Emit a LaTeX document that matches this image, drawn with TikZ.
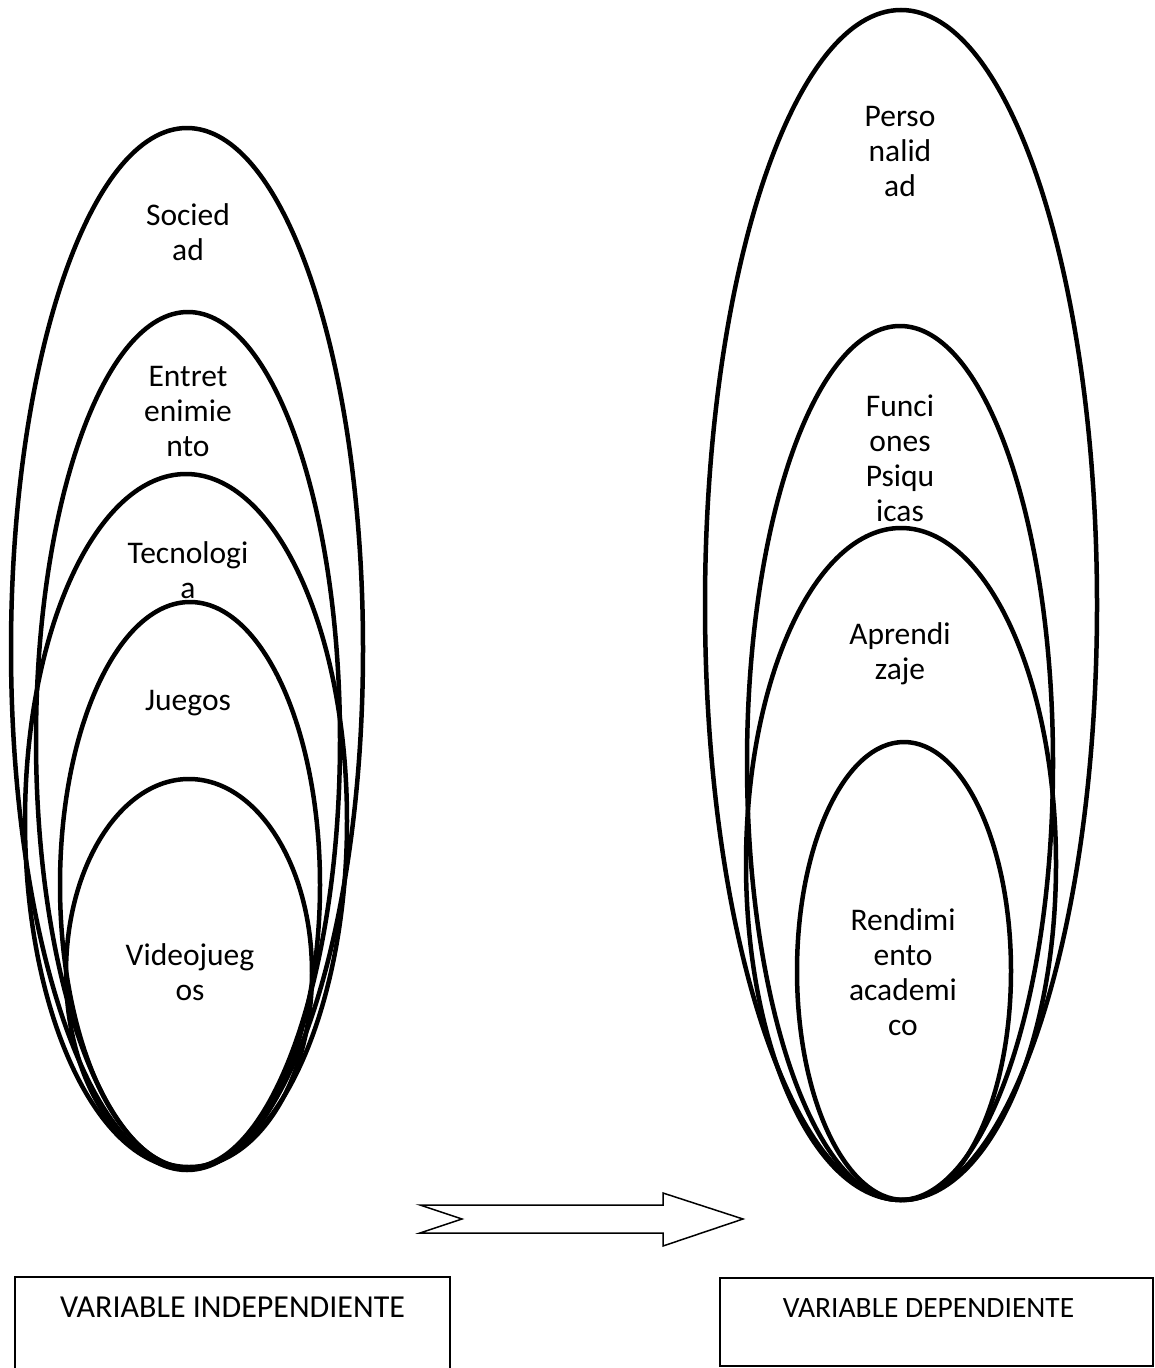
\documentclass[tikz,border=0pt]{standalone}
\usepackage{fontspec}
\setmainfont{Carlito}
\usetikzlibrary{positioning}

\tikzset{
  ring/.style={line width=4.5pt},
  tag/.style={align=center, inner sep=0pt, font=\fontsize{31.5}{35}\selectfont},
  varbox/.style={draw, line width=1.8pt, inner sep=0pt}
}

\begin{document}
\begin{tikzpicture}[x=1pt,y=-1pt]
        \useasboundingbox (0,0) rectangle (1155,1368);

        % Independent side: nested ellipses
        \draw[ring] (187,649) ellipse (176 and 521);
        \draw[ring] (188,740) ellipse (152 and 428);
        \draw[ring] (186,821) ellipse (161 and 347);
        \draw[ring] (190,885) ellipse (130 and 283);
        \draw[ring] (189,973) ellipse (123 and 194);
        \node[tag] (soc) at (188,232) {Socied\\ad};
        \node[tag] (ent) at (188,412) {Entret\\enimie\\nto};
        \node[tag] (tec) at (188,570) {Tecnologi\\a};
        \node[tag] (jue) at (188,703) {Juegos};
        \node[tag] (vid) at (190,972) {Videojueg\\os};

        % Dependent side: nested ellipses
        \draw[ring] (901,605) ellipse (196 and 595);
        \draw[ring] (900,763) ellipse (153 and 437);
        \draw[ring] (901,864) ellipse (155 and 336);
        \draw[ring] (904,971) ellipse (107 and 229);
        \node[tag] (per) at (900,152) {Perso\\nalid\\ad};
        \node[tag] (fun) at (900,458) {Funci\\ones\\Psiqu\\icas};
        \node[tag] (apr) at (900,654) {Aprendi\\zaje};
        \node[tag] (ren) at (903,972) {Rendimi\\ento\\academi\\co};

        % Block arrow
        \draw[line width=1.5pt] (420,1205) -- (663,1205) -- (663,1193) -- (743,1219)
            -- (663,1246) -- (663,1233) -- (420,1233) -- (462,1219) -- cycle;

        % Variable boxes
        \node[varbox, minimum width=435pt, minimum height=130pt] (indep) at (232.5,1342) {};
        \node[tag, font=\fontsize{32}{35}\selectfont, below=21pt of indep.north] (indeptxt) {VARIABLE INDEPENDIENTE};
        \node[varbox, minimum width=433pt, minimum height=88pt] (dep) at (936.5,1322) {};
        \node[tag, font=\fontsize{29.5}{35}\selectfont, below=21pt of dep.north, xshift=-8pt] (deptxt) {VARIABLE DEPENDIENTE};
\end{tikzpicture}
\end{document}
